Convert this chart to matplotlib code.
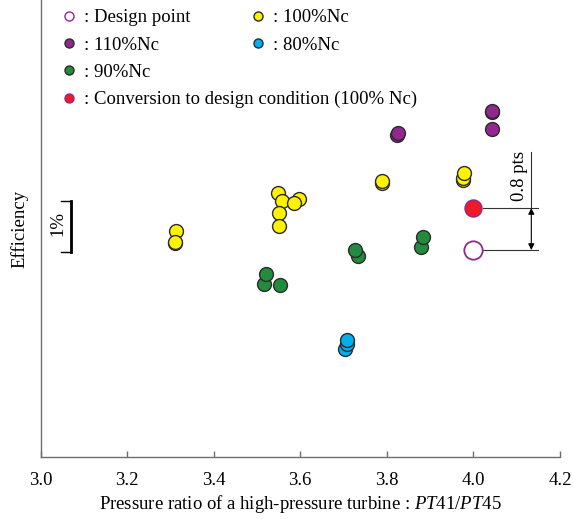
import matplotlib
matplotlib.use('Agg')
import matplotlib.pyplot as plt
from matplotlib.lines import Line2D

plt.rcParams['font.family'] = ['Liberation Serif', 'DejaVu Serif']
plt.rcParams['mathtext.fontset'] = 'custom'
plt.rcParams['mathtext.rm'] = 'Liberation Serif'
plt.rcParams['mathtext.it'] = 'Liberation Serif:italic'

# efficiency given as pts relative to the design point
nc100_x = [3.314, 3.310, 3.310, 3.549, 3.557, 3.597, 3.586, 3.550, 3.550,
           3.789, 3.789, 3.977, 3.976, 3.978]
nc100_y = [0.37, 0.13, 0.16, 1.08, 0.94, 0.98, 0.89, 0.70, 0.46,
           1.28, 1.32, 1.33, 1.38, 1.47]
nc110_x = [4.043, 4.043, 4.043, 3.823, 3.827]
nc110_y = [2.62, 2.65, 2.31, 2.19, 2.23]
nc90_x = [3.733, 3.727, 3.880, 3.883, 3.517, 3.520, 3.554]
nc90_y = [-0.11, 0.01, 0.05, 0.25, -0.65, -0.46, -0.67]
nc80_x = [3.703, 3.707, 3.707]
nc80_y = [-1.89, -1.79, -1.71]
design_x, design_y = 4.0, 0.0
conv_x, conv_y = 4.0, 0.8

c_yellow = '#fff200'
c_purple = '#92278f'
c_green = '#238b3d'
c_blue = '#00aeef'
c_red = '#ed1c24'
edge = '#2b2b2b'
fs = 13.5

fig = plt.figure(figsize=(5.73, 5.19), dpi=100)
ax = fig.add_axes([0.0707, 0.1195, 0.9064, 0.8805])

kw = dict(s=100, edgecolors=edge, linewidths=1.0, zorder=3)
ax.scatter(nc100_x, nc100_y, color=c_yellow, **kw)
ax.scatter(nc110_x, nc110_y, color=c_purple, **kw)
ax.scatter(nc90_x, nc90_y, color=c_green, **kw)
ax.scatter(nc80_x, nc80_y, color=c_blue, **kw)
ax.scatter([design_x], [design_y], s=175, facecolors='white', edgecolors=c_purple,
           linewidths=1.3, zorder=3)
ax.scatter([conv_x], [conv_y], s=150, color=c_red, edgecolors=c_purple,
           linewidths=1.0, zorder=4)

# 0.8 pts dimension
lc = '#333333'
ax.plot([conv_x + 0.022, conv_x + 0.150], [conv_y, conv_y], color=lc, lw=0.8)
ax.plot([design_x + 0.022, design_x + 0.150], [design_y, design_y], color=lc, lw=0.8)
ax.plot([4.134, 4.134], [conv_y, 1.87], color=lc, lw=0.8)
ax.annotate('', xy=(4.134, design_y), xytext=(4.134, conv_y),
            arrowprops=dict(arrowstyle='<|-|>', color='black', lw=0.8,
                            shrinkA=0, shrinkB=0, mutation_scale=9))
ax.text(4.106, 1.41, '0.8 pts', rotation=90, ha='center', va='center', fontsize=fs)

# 1% scale bar
ax.plot([3.048, 3.070, 3.070, 3.048], [0.94, 0.94, -0.03, -0.03],
        color='black', lw=1.0)
ax.plot([3.070, 3.070], [0.94, -0.03], color='black', lw=2.0)
ax.text(3.041, 0.5, '1%', rotation=90, ha='center', va='center', fontsize=fs)

ax.set_xlim(3.0, 4.2)
ax.set_ylim(-3.94, 4.76)
ax.set_xticks([3.0, 3.2, 3.4, 3.6, 3.8, 4.0, 4.2])
ax.set_xticklabels(['3.0', '3.2', '3.4', '3.6', '3.8', '4.0', '4.2'])
ax.set_yticks([])
for s in ['top', 'right']:
    ax.spines[s].set_visible(False)
for s in ['left', 'bottom']:
    ax.spines[s].set_color('#6e6e6e')
    ax.spines[s].set_linewidth(1.0)
ax.tick_params(axis='x', direction='in', length=4, width=1.0, color='#6e6e6e',
               labelsize=fs, pad=11)
ax.set_xlabel(r'Pressure ratio of a high-pressure turbine : $\mathit{PT}$41/$\mathit{PT}$45',
              fontsize=fs, labelpad=3)
ax.set_ylabel('Efficiency', fontsize=fs, labelpad=9)

def handle(fc, ec=edge):
    return Line2D([], [], marker='o', linestyle='none', markersize=6.5,
                  markerfacecolor=fc, markeredgecolor=ec, markeredgewidth=1.0)

leg_kw = dict(frameon=False, fontsize=fs, handlelength=1.0, handletextpad=0.3,
              borderpad=0, borderaxespad=0, labelspacing=0.54,
              loc='upper left', bbox_transform=fig.transFigure)
leg1 = ax.legend([handle('white', c_purple), handle(c_purple), handle(c_green),
                  handle(c_red, c_purple)],
                 [': Design point', ': 110%Nc', ': 90%Nc',
                  ': Conversion to design condition (100% Nc)'],
                 bbox_to_anchor=(0.104, 0.982), **leg_kw)
ax.add_artist(leg1)
ax.legend([handle(c_yellow), handle(c_blue)], [': 100%Nc', ': 80%Nc'],
          bbox_to_anchor=(0.434, 0.982), **leg_kw)

fig.savefig('out.png', dpi=100)
